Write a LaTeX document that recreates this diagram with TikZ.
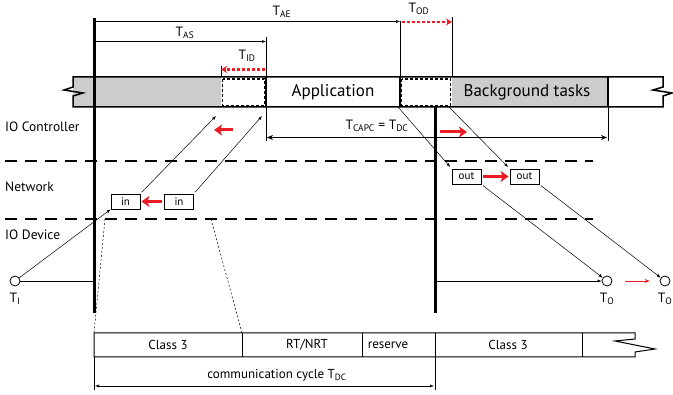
\documentclass[tikz,border=0pt]{standalone}
\usepackage{fontspec}
\setmainfont{PT Sans}
\usetikzlibrary{arrows.meta}
\definecolor{taskgray}{RGB}{204,204,204}
\definecolor{flowred}{RGB}{237,28,36}

\begin{document}
\begin{tikzpicture}[x=1pt, y=-1pt,
        every node/.style = {inner sep=0pt, font=\fontsize{13.5}{15}\selectfont},
        iobox/.style = {draw, line width=0.8pt, minimum width=29pt, minimum height=15pt, font=\fontsize{11}{12}\selectfont},
        term/.style = {draw, circle, minimum size=10pt, line width=0.8pt},
        flow/.style = {draw, line width=0.5pt, -{Latex[length=4pt,width=3pt]}},
        dimline/.style = {draw, line width=0.5pt},
        redflow/.style = {draw=flowred, line width=3pt, -{Stealth[length=8pt,width=11pt,inset=2pt]}},
        reddot/.style = {draw=flowred, line width=2.5pt, dash pattern=on 3pt off 2pt, -{Stealth[length=6pt,width=7pt]}},
        lane/.style = {draw, line width=2pt, dash pattern=on 12pt off 8pt},
        cycle/.style = {draw, line width=3pt},
        bigtext/.style = {font=\fontsize{17}{19}\selectfont},
        celltext/.style = {font=\fontsize{13}{15}\selectfont}
    ]
    \useasboundingbox (0,0) rectangle (673,395);

    \fill[taskgray] (73,77) rectangle (221,107);
    \fill[taskgray] (452,77) rectangle (608,107);
    \draw[line width=1.2pt, dash pattern=on 3pt off 2pt] (222.5,79) rectangle (264.5,105.5);
    \draw[line width=1.2pt, dash pattern=on 3pt off 2pt] (401.5,79) rectangle (450.5,105.5);
    \draw[line width=1.5pt, line join=miter] (73,77) -- (663,77) -- (663,87) -- (653,90) -- (672,93) -- (663,96) -- (663,107)
        -- (73,107) -- (73,96) -- (83,93) -- (64,90) -- (73,87) -- cycle;
    \draw[line width=1.5pt] (266,77) -- (266,107);
    \draw[line width=1.5pt] (400,77) -- (400,107);
    \draw[line width=1.5pt] (608,77) -- (608,107);
    \node[bigtext] (app) at (333,92) {Application};
    \node[bigtext] (bg) at (527,92) {Background tasks};

    \draw[dimline] (266,37) -- (266,141);
    \draw[dimline] (400,21) -- (400,77);
    \draw[dimline] (452,17) -- (452,77);
    \draw[dimline] (608,107) -- (608,141);
    \draw[dimline] (221,66) -- (221,77);
    \draw[dimline, -{Latex[length=4pt,width=3pt]}] (94,21.5) -- (400,21.5);
    \draw[dimline, -{Latex[length=4pt,width=3pt]}] (94,41.5) -- (266,41.5);
    \draw[reddot] (402,22) -- (452,22);
    \draw[reddot] (265,69.5) -- (221,69.5);
    \draw[line width=1.3pt, {Stealth[length=6pt,width=5pt]}-{Stealth[length=6pt,width=5pt]}] (267,137.5) -- (607,137.5);
    \node (tae) at (282,12) {T\textsubscript{AE}};
    \node (tod) at (419,9) {T\textsubscript{OD}};
    \node (tas) at (185,33) {T\textsubscript{AS}};
    \node (tid) at (247,56) {T\textsubscript{ID}};
    \node (tcapc) at (377,126) {T\textsubscript{CAPC} = T\textsubscript{DC}};

    \draw[lane] (5,161) -- (593,161);
    \draw[lane] (5,219) -- (593,219);
    \node[anchor=west] (ctrl) at (5,127) {IO Controller};
    \node[anchor=west] (net) at (5,187) {Network};
    \node[anchor=west] (dev) at (5,235) {IO Device};

    \coordinate (cycA top) at (94,18);
    \coordinate (cycA bot) at (94,313);
    \coordinate (cycB top) at (435,107);
    \coordinate (cycB bot) at (435,313);
    \draw[cycle] (cycA top) -- (cycA bot);
    \draw[cycle] (cycB top) -- (cycB bot);

    \node[iobox] (in1) at (125.5,201.5) {in};
    \node[iobox] (in2) at (179,201.5) {in};
    \node[iobox] (out1) at (466.5,176.5) {out};
    \node[iobox] (out2) at (524.5,176.5) {out};
    \node[term] (TI) at (15,281) {};
    \node[term] (TO1) at (607,281) {};
    \node[term] (TO2) at (665,281) {};
    \node (TI label) at (15,299) {T\textsubscript{I}};
    \node (TO1 label) at (607,299) {T\textsubscript{O}};
    \node (TO2 label) at (665,299) {T\textsubscript{O}};

    \coordinate (read1) at (216,116);
    \coordinate (read2) at (262,116);
    \coordinate (write1) at (398,107);
    \coordinate (write2) at (449,107);
    \draw[flow] (TI) -- (in1.south west);
    \draw[dimline] (TI.east) -- (cycA top |- TI.east);
    \draw[flow, shorten <=2pt] (in1.north east) -- (read1);
    \draw[flow, shorten <=2pt] (in2.north east) -- (read2);
    \draw[flow, shorten >=2pt] (write1) -- (out1.north west);
    \draw[flow, shorten >=2pt] (write2) -- (out2.north west);
    \draw[flow, shorten <=2pt] (out1.south east) -- (TO1);
    \draw[flow, shorten <=2pt] (out2.south east) -- (TO2);
    \draw[flow] (cycB bot |- TO1) -- (TO1);
    \draw[redflow, shorten <=2pt, shorten >=1pt] (in2.west) -- (in1.east);
    \draw[redflow, shorten <=2pt, shorten >=1pt] (out1.east) -- (out2.west);
    \draw[redflow] (233,130) -- (214,130);
    \draw[redflow] (440,132) -- (467,132);
    \draw[draw=flowred, line width=0.8pt, -{Stealth[length=5pt,width=4pt]}, shorten <=13pt, shorten >=10pt] (TO1) -- (TO2);

    \draw[line width=0.5pt, dash pattern=on 2pt off 2pt] (105,219) -- (94,333);
    \draw[line width=0.5pt, dash pattern=on 2pt off 2pt] (211,219) -- (242,333);
    \draw[line width=1pt] (94,333) -- (635,333) -- (635,339) -- (615,341) -- (655,349) -- (635,352) -- (635,357) -- (94,357) -- cycle;
    \draw[line width=1pt] (242,333) -- (242,357);
    \draw[line width=1pt] (362,333) -- (362,357);
    \draw[line width=1pt] (435,333) -- (435,357);
    \draw[line width=1pt] (582,333) -- (582,357);
    \node[celltext] (cls1) at (168,345) {Class 3};
    \node[celltext] (rt) at (307,345) {RT/NRT};
    \node[celltext] (res) at (388,345) {reserve};
    \node[celltext] (cls2) at (508,345) {Class 3};
    \draw[dimline] (94,357) -- (94,390);
    \draw[dimline] (435,357) -- (435,390);
    \draw[dimline, {Latex[length=4pt,width=3pt]}-{Latex[length=4pt,width=3pt]}] (95,386) -- (434,386);
    \node[celltext] (cyc) at (277,375) {communication cycle T\textsubscript{DC}};
\end{tikzpicture}
\end{document}
